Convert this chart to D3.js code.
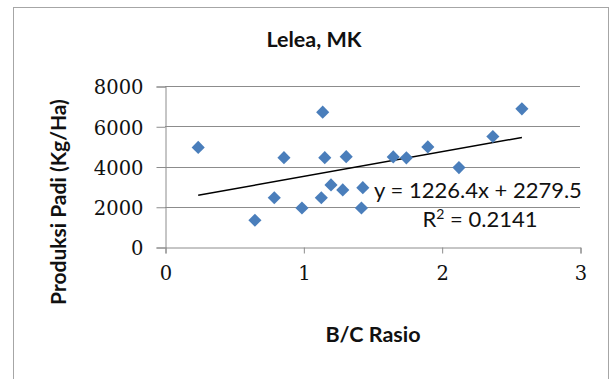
<!DOCTYPE html>
<html>
<head>
<meta charset="utf-8">
<script src="https://cdn.jsdelivr.net/npm/d3@7"></script>
<style>
  body { margin: 0; background: #fff; }
  svg { display: block; }
  .lbl { font-family: Lato, sans-serif; fill: #111; }
</style>
</head>
<body>
<script>
// B/C ratio vs rice yield, Lelea MK
const bcRatio = [0.24, 0.65, 0.79, 0.86, 0.99, 1.13, 1.14, 1.155, 1.20, 1.285, 1.31, 1.42, 1.43, 1.65, 1.745, 1.90, 2.125, 2.37, 2.58]
const produksi = [4950, 1330, 2450, 4440, 1940, 2450, 6700, 4440, 3085, 2836, 4490, 1940, 2950, 4478, 4430, 4975, 3945, 5490, 6865]
const xTicks = [0, 1, 2, 3]
const yTicks = [0, 2000, 4000, 6000, 8000]
const trend = { slope: 1226.4, intercept: 2279.5, r2: 0.2141 }

const W = 616, H = 379
const plot = { left: 165, right: 580, top: 86, bottom: 247 }

const svg = d3.select('body').append('svg')
  .attr('width', W)
  .attr('height', H)

// chart frame
svg.append('rect')
  .attr('x', 13.5).attr('y', 7.5)
  .attr('width', 595).attr('height', 390)
  .attr('fill', '#fff')
  .attr('stroke', '#a6a6a6')

const x = d3.scaleLinear().domain([0, 3]).range([plot.left, plot.right])
const y = d3.scaleLinear().domain([0, 8000]).range([plot.bottom, plot.top])

// gridlines
svg.append('g')
  .selectAll('line')
  .data(yTicks.slice(1))
  .join('line')
  .attr('x1', plot.left).attr('x2', plot.right)
  .attr('y1', d => Math.round(y(d)) + 0.5).attr('y2', d => Math.round(y(d)) + 0.5)
  .attr('stroke', '#8c8c8c')

const tickFont = sel => sel
  .attr('font-family', null)
  .attr('font-size', null)
  .selectAll('.tick text')
  .style('font-family', '"DejaVu Serif", "Liberation Serif", serif')
  .style('font-size', '19.5px')
  .attr('fill', '#111')

const yAxis = svg.append('g')
  .attr('transform', `translate(${plot.left + 0.5},0.5)`)
  .call(d3.axisLeft(y).tickValues(yTicks).tickSize(9).tickPadding(13).tickFormat(d3.format('d')))
yAxis.select('.domain').attr('stroke', '#8c8c8c')
yAxis.selectAll('.tick line').attr('stroke', '#8c8c8c')
yAxis.call(tickFont)
yAxis.selectAll('.tick text').attr('dy', '0.38em')

const xAxis = svg.append('g')
  .attr('transform', `translate(0.5,${plot.bottom + 0.5})`)
  .call(d3.axisBottom(x).tickValues(xTicks).tickSize(6).tickSizeOuter(6).tickPadding(13).tickFormat(d3.format('d')))
xAxis.select('.domain').attr('stroke', '#8c8c8c')
xAxis.selectAll('.tick line').attr('stroke', '#8c8c8c')
xAxis.call(tickFont)

// trendline
const xr = d3.extent(bcRatio)
svg.append('line')
  .attr('x1', x(xr[0])).attr('y1', y(trend.slope * xr[0] + trend.intercept))
  .attr('x2', x(xr[1])).attr('y2', y(trend.slope * xr[1] + trend.intercept))
  .attr('stroke', '#000')
  .attr('stroke-width', 1.5)

// points
svg.append('g')
  .selectAll('path')
  .data(bcRatio.map((b, i) => [b, produksi[i]]))
  .join('path')
  .attr('transform', d => `translate(${x(d[0])},${y(d[1])})`)
  .attr('d', d3.symbol(d3.symbolDiamond2, 110))
  .attr('fill', '#4a7ebb')

// trend equation
const eq = svg.append('text')
  .attr('class', 'lbl')
  .attr('x', 478).attr('y', 198)
  .attr('text-anchor', 'middle')
  .style('font-size', '22px')
eq.text(`y = ${trend.slope}x + ${trend.intercept}`)

const r2 = svg.append('text')
  .attr('class', 'lbl')
  .attr('x', 480).attr('y', 227)
  .attr('text-anchor', 'middle')
  .style('font-size', '22px')
r2.append('tspan').text('R')
r2.append('tspan').attr('dy', -8).style('font-size', '14px').text('2')
r2.append('tspan').attr('dy', 8).text(` = ${trend.r2}`)

// titles
svg.append('text')
  .attr('class', 'lbl')
  .attr('x', 314).attr('y', 47)
  .attr('text-anchor', 'middle')
  .style('font-size', '21.5px').style('font-weight', 'bold')
  .text('Lelea, MK')

svg.append('text')
  .attr('class', 'lbl')
  .attr('x', 373).attr('y', 342)
  .attr('text-anchor', 'middle')
  .style('font-size', '21.5px').style('font-weight', 'bold')
  .text('B/C Rasio')

svg.append('text')
  .attr('class', 'lbl')
  .attr('transform', 'translate(66,202) rotate(-90)')
  .attr('text-anchor', 'middle')
  .style('font-size', '21px').style('font-weight', 'bold')
  .text('Produksi Padi (Kg/Ha)')
</script>
</body>
</html>
